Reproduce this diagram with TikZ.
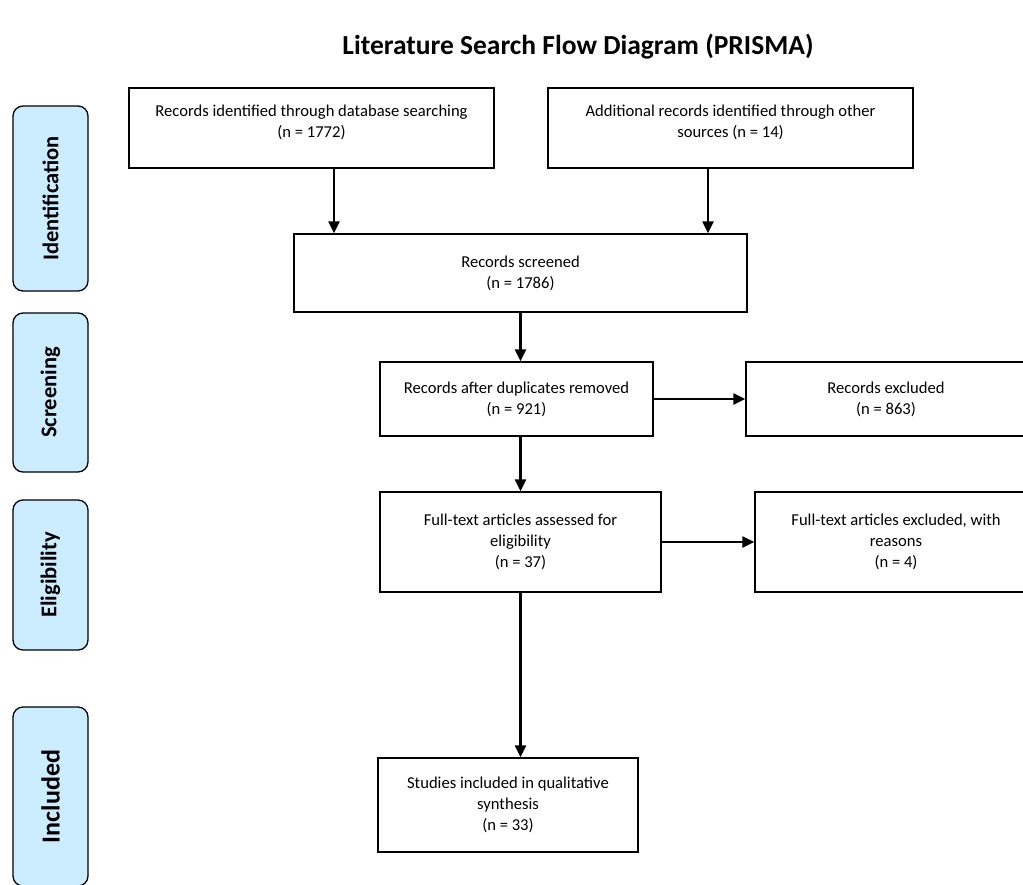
\documentclass[tikz,border=0pt]{standalone}
\usepackage{fontspec}
\setmainfont{Carlito}
\usepackage{tikz}
\usetikzlibrary{arrows.meta}
\definecolor{phaseblue}{RGB}{204,236,255}

\begin{document}
\begin{tikzpicture}[
    x=1pt, y=-1pt,
    >={Triangle[length=12pt,width=11pt]},
    every node/.style={font=\fontsize{16.6}{21}\selectfont, align=center},
    box/.style={draw, line width=1.3pt, inner sep=2pt},
    phase/.style={draw, line width=1.3pt, fill=phaseblue, rounded corners=10pt,
        minimum height=75pt, rotate=90, font=\fontsize{22.5}{26}\selectfont\bfseries},
    flow/.style={->, line width=2.2pt}
]
\useasboundingbox (0,0) rectangle (1023,884);

% title
\node[font=\fontsize{27.5}{32}\selectfont\bfseries] (T) at (578,47) {Literature Search Flow Diagram (PRISMA)};

% phases on the left
\node[phase, minimum width=185pt] (Pid) at (50.5,198.5) {Identification};
\node[phase, minimum width=159pt] (Psc) at (50.5,392.5) {Screening};
\node[phase, minimum width=150pt] (Pel) at (50.5,575) {Eligibility};
\node[phase, minimum width=179pt, font=\fontsize{26}{30}\selectfont\bfseries] (Pin) at (50.5,796.5) {Included};

% boxes
\node[box, minimum width=365pt, minimum height=80pt, text depth=14pt] (Db) at (311.5,128)
    {Records identified through database searching\\(n = 1772)};
\node[box, minimum width=365pt, minimum height=80pt, text depth=14pt] (Oth) at (730.5,128)
    {Additional records identified through other\\sources (n = 14)};
\node[box, minimum width=453pt, minimum height=78pt] (Scr) at (520.5,273)
    {Records screened\\(n = 1786)};
\node[box, minimum width=273pt, minimum height=74pt] (Dup) at (516.5,399)
    {Records after duplicates removed\\(n = 921)};
\node[box, minimum width=280pt, minimum height=74pt] (Exc) at (886,399)
    {Records excluded\\(n = 863)};
\node[box, minimum width=281pt, minimum height=100pt] (Ft) at (520.5,542)
    {Full-text articles assessed for\\eligibility\\(n = 37)};
\node[box, minimum width=282pt, minimum height=100pt] (FtEx) at (896,542)
    {Full-text articles excluded, with\\reasons\\(n = 4)};
\node[box, minimum width=260pt, minimum height=94pt] (Inc) at (508,805)
    {Studies included in qualitative\\synthesis\\(n = 33)};

% arrows
\draw[flow] ([xshift=22.5pt]Db.south) -- ([xshift=22.5pt]Db.south |- Scr.north);
\draw[flow] ([xshift=-22.5pt]Oth.south) -- ([xshift=-22.5pt]Oth.south |- Scr.north);
\draw[flow] (Scr.south) -- (Scr.south |- Dup.north);
\draw[flow] (Dup.east) -- (Dup.east -| Exc.west);
\draw[flow] (Scr.south |- Dup.south) -- (Scr.south |- Ft.north);
\draw[flow] (Ft.east) -- (Ft.east -| FtEx.west);
\draw[flow] (Ft.south) -- (Ft.south |- Inc.north);
\end{tikzpicture}
\end{document}
